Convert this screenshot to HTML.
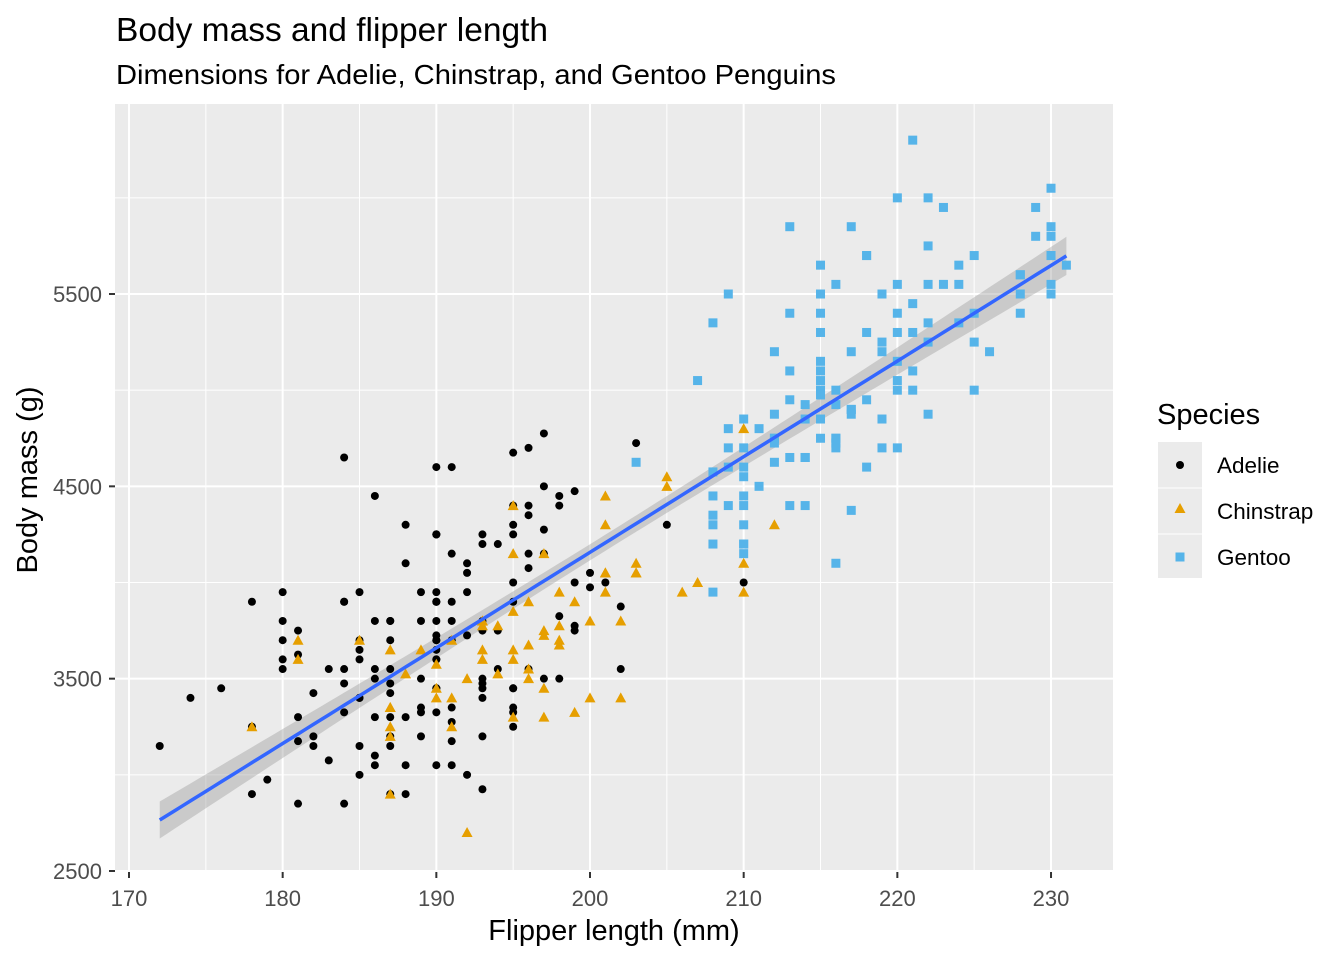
<!DOCTYPE html>
<html><head><meta charset="utf-8"><style>body{margin:0;background:#fff}svg{display:block}</style></head>
<body>
<svg id="s" width="1344" height="960" xmlns="http://www.w3.org/2000/svg" font-family="Liberation Sans, Arial, sans-serif">
<rect x="0" y="0" width="1344" height="960" fill="#fff"/>
<rect x="115" y="104" width="998" height="768" fill="#EBEBEB"/>
<g id="grid"></g>
<g id="band"></g>
<g id="pts"></g>
<g id="axes"></g>
<text x="116" y="41" font-size="33.5" fill="#000">Body mass and flipper length</text>
<text x="116" y="84" font-size="28" fill="#000" textLength="720" lengthAdjust="spacingAndGlyphs">Dimensions for Adelie, Chinstrap, and Gentoo Penguins</text>
<text x="614" y="940" font-size="29" text-anchor="middle" fill="#000">Flipper length (mm)</text>
<text transform="translate(37,480) rotate(-90)" font-size="29" text-anchor="middle" fill="#000">Body mass (g)</text>
<text x="1157" y="424" font-size="29" fill="#000">Species</text>
<rect x="1158" y="442" width="44" height="136" fill="#EBEBEB"/>
<line x1="1158" y1="488" x2="1202" y2="488" stroke="#fff" stroke-width="1"/>
<line x1="1158" y1="534" x2="1202" y2="534" stroke="#fff" stroke-width="1"/>
<circle cx="1180" cy="465" r="4" fill="#000"/>
<polygon points="1180,503 1185.5,513 1174.5,513" fill="#E69F00"/>
<rect x="1175.5" y="552.5" width="9" height="9" fill="#56B4E9"/>
<text x="1217" y="473" font-size="22.5" fill="#000">Adelie</text>
<text x="1217" y="519" font-size="22.5" fill="#000">Chinstrap</text>
<text x="1217" y="565" font-size="22.5" fill="#000">Gentoo</text>
</svg>
<script>
const A="181 3750 186 3800 195 3250 193 3450 190 3650 181 3625 195 4675 193 3475 190 4250 186 3300 180 3700 182 3200 191 3800 198 4400 185 3700 195 3450 197 4500 184 3325 194 4200 174 3400 180 3600 189 3800 185 3950 180 3800 187 3800 183 3550 187 3200 172 3150 180 3950 178 3250 178 3900 188 3300 184 3900 195 3325 196 4150 190 3950 180 3550 181 3300 184 4650 182 3150 195 3900 186 3100 196 4400 185 3000 190 4600 182 3425 179 2975 190 3450 191 4150 186 3500 188 4300 190 3450 200 4050 187 2900 191 3700 186 3550 193 3800 181 2850 194 3750 185 3150 195 4400 185 3600 192 4050 184 2850 192 3950 195 3350 188 4100 190 3050 198 4450 190 3600 190 3900 196 3550 197 4150 190 3700 195 4250 191 3700 184 3900 187 3550 195 4000 189 3200 196 4700 187 3800 193 4200 191 3350 194 3550 190 3800 189 3500 189 3950 190 3600 202 3550 205 4300 185 3400 186 4450 187 3300 203 4725 190 3700 196 4350 178 2900 192 4100 192 3725 183 3075 190 4250 193 2925 184 3550 199 3750 190 3900 181 3175 197 4775 198 3825 191 4600 193 3200 197 4275 191 3900 196 4075 188 2900 199 3775 189 3350 189 3325 187 3150 198 3500 176 3450 202 3875 186 3050 199 4000 191 3275 195 4300 191 3050 210 4000 190 3325 197 3500 193 3500 199 4475 187 3425 190 3900 191 3175 200 3975 185 3400 193 4250 193 3400 187 3475 188 3050 190 3725 192 3000 185 3650 190 4250 184 3475 195 3450 193 3750 187 3700 201 4000";
const C="192 3500 196 3900 193 3650 188 3525 197 3725 198 3950 178 3250 197 3750 195 4150 198 3700 193 3800 194 3775 185 3700 201 4050 190 3575 201 4050 197 3300 181 3700 190 3450 195 4400 181 3600 191 3400 187 2900 193 3800 195 3300 197 4150 200 3400 200 3800 191 3700 205 4550 187 3200 201 4300 187 3350 203 4100 195 3600 199 3900 195 3850 210 4800 192 2700 205 4500 210 3950 187 3650 196 3550 196 3500 196 3675 201 4450 190 3400 212 4300 187 3250 198 3675 199 3325 201 3950 193 3600 203 4050 187 3350 197 3450 191 3250 203 4050 202 3800 194 3525 206 3950 189 3650 195 3650 207 4000 202 3400 193 3775 210 4100 198 3775";
const G="211 4500 230 5700 210 4450 218 5700 215 5400 210 4550 211 4800 219 5200 209 4400 215 5150 214 4650 216 5550 214 4650 213 5850 210 4200 217 5850 210 4150 221 6300 209 4800 222 5350 218 5700 215 5000 213 4400 215 5050 215 5000 215 5100 216 4100 215 5650 210 4600 220 5550 222 5250 209 4700 207 5050 230 6050 220 5150 220 5400 213 4950 219 5250 208 4350 208 5350 208 3950 225 5700 210 4300 216 4750 222 5550 217 4900 210 4200 225 5400 213 5100 215 5300 210 4850 220 5300 210 4400 225 5000 217 4900 220 5050 208 4300 220 5000 208 4450 224 5550 208 4200 221 5300 214 4400 231 5650 219 4700 230 5700 214 4650 229 5800 220 4700 223 5550 216 4750 221 5000 221 5100 217 5200 216 4700 230 5800 209 4600 220 6000 215 4750 223 5950 212 4625 221 5450 212 4725 224 5350 212 4750 228 5600 218 4600 218 5300 212 4875 230 5550 218 4950 228 5400 212 4750 224 5650 214 4850 226 5200 216 4925 222 4875 203 4625 225 5250 219 4850 228 5600 215 4975 228 5500 216 4725 215 5500 210 4700 219 5500 208 4575 209 5500 216 5000 229 5950 213 4650 230 5500 217 4375 230 5850 217 4875 222 6000 214 4925 215 4850 222 5750 212 5200 213 5400";
const NS="http://www.w3.org/2000/svg";
const px=x=>129+(x-170)*15.367, py=y=>871-(y-2500)*0.19233;
function parse(s){const a=s.split(" ").map(Number),r=[];for(let i=0;i<a.length;i+=2)r.push([a[i],a[i+1]]);return r;}
function el(p,t,at,txt){const e=document.createElementNS(NS,t);for(const k in at)e.setAttribute(k,at[k]);if(txt!=null)e.textContent=txt;p.appendChild(e);return e;}
const grid=document.getElementById("grid"),axes=document.getElementById("axes"),pts=document.getElementById("pts"),band=document.getElementById("band");
for(let x=175;x<=230;x+=10)el(grid,"line",{x1:px(x),x2:px(x),y1:104,y2:872,stroke:"#fff","stroke-width":1});
for(let y=3000;y<=6000;y+=1000)el(grid,"line",{x1:115,x2:1113,y1:py(y),y2:py(y),stroke:"#fff","stroke-width":1});
for(let x=170;x<=230;x+=10){el(grid,"line",{x1:px(x),x2:px(x),y1:104,y2:872,stroke:"#fff","stroke-width":2});
 el(axes,"line",{x1:px(x),x2:px(x),y1:872,y2:878,stroke:"#333","stroke-width":2});
 el(axes,"text",{x:px(x),y:906,"font-size":22,"text-anchor":"middle",fill:"#4D4D4D"},x);}
for(let y=2500;y<=5500;y+=1000){el(grid,"line",{x1:115,x2:1113,y1:py(y),y2:py(y),stroke:"#fff","stroke-width":2});
 el(axes,"line",{x1:109,x2:115,y1:py(y),y2:py(y),stroke:"#333","stroke-width":2});
 el(axes,"text",{x:102,y:py(y)+8,"font-size":22,"text-anchor":"end",fill:"#4D4D4D"},y);}
const a=parse(A),c=parse(C),g=parse(G),all=a.concat(c,g);
const n=all.length;let mx=0,my=0;all.forEach(p=>{mx+=p[0];my+=p[1]});mx/=n;my/=n;
let sxx=0,sxy=0;all.forEach(p=>{sxx+=(p[0]-mx)**2;sxy+=(p[0]-mx)*(p[1]-my)});
const b=sxy/sxx,a0=my-b*mx;let sse=0;all.forEach(p=>{sse+=(p[1]-a0-b*p[0])**2});
const s=Math.sqrt(sse/(n-2));
let up=[],lo=[],ln=[];
for(let x=172;x<=231.001;x+=0.5){const f=a0+b*x,se=s*Math.sqrt(1/n+(x-mx)**2/sxx)*1.967;
 up.push(px(x)+","+py(f+se));lo.unshift(px(x)+","+py(f-se));ln.push(px(x)+","+py(f));}
el(band,"polygon",{points:up.concat(lo).join(" "),fill:"#999","fill-opacity":0.4});
a.forEach(p=>el(pts,"circle",{cx:px(p[0]),cy:py(p[1]),r:4,fill:"#000"}));
c.forEach(p=>{const X=px(p[0]),Y=py(p[1]);el(pts,"polygon",{points:`${X},${Y-5.5} ${X+5.5},${Y+4.5} ${X-5.5},${Y+4.5}`,fill:"#E69F00"})});
g.forEach(p=>el(pts,"rect",{x:px(p[0])-4.5,y:py(p[1])-4.5,width:9,height:9,fill:"#56B4E9"}));
el(pts,"polyline",{points:ln.join(" "),fill:"none",stroke:"#3366FF","stroke-width":3.5});
</script>
</body></html>
